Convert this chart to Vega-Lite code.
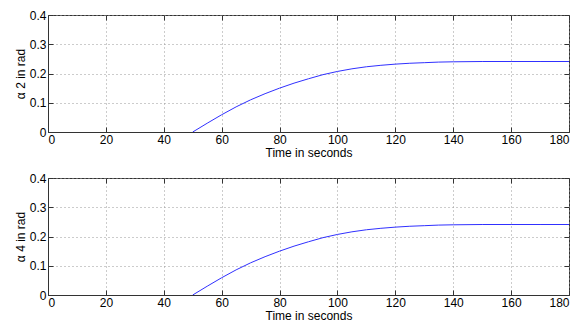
{
  "$schema": "https://vega.github.io/schema/vega-lite/v6.json",
  "background": "white",
  "padding": {"left": 13, "top": 8, "right": 11, "bottom": 2},
  "datasets": {
    "a2": [
      {"t": 50, "v": 0}, {"t": 55, "v": 0.03}, {"t": 60, "v": 0.059}, {"t": 65, "v": 0.086},
      {"t": 70, "v": 0.110}, {"t": 75, "v": 0.131}, {"t": 80, "v": 0.150}, {"t": 85, "v": 0.167},
      {"t": 90, "v": 0.182}, {"t": 95, "v": 0.196}, {"t": 100, "v": 0.207}, {"t": 105, "v": 0.216},
      {"t": 110, "v": 0.223}, {"t": 115, "v": 0.228}, {"t": 120, "v": 0.232}, {"t": 125, "v": 0.235},
      {"t": 130, "v": 0.237}, {"t": 135, "v": 0.239}, {"t": 140, "v": 0.240}, {"t": 150, "v": 0.241},
      {"t": 160, "v": 0.241}, {"t": 170, "v": 0.241}, {"t": 180, "v": 0.241}
    ],
    "a4": [
      {"t": 50, "v": 0}, {"t": 55, "v": 0.03}, {"t": 60, "v": 0.059}, {"t": 65, "v": 0.086},
      {"t": 70, "v": 0.110}, {"t": 75, "v": 0.131}, {"t": 80, "v": 0.150}, {"t": 85, "v": 0.167},
      {"t": 90, "v": 0.182}, {"t": 95, "v": 0.196}, {"t": 100, "v": 0.207}, {"t": 105, "v": 0.216},
      {"t": 110, "v": 0.223}, {"t": 115, "v": 0.228}, {"t": 120, "v": 0.232}, {"t": 125, "v": 0.235},
      {"t": 130, "v": 0.237}, {"t": 135, "v": 0.239}, {"t": 140, "v": 0.240}, {"t": 150, "v": 0.241},
      {"t": 160, "v": 0.241}, {"t": 170, "v": 0.241}, {"t": 180, "v": 0.241}
    ]
  },
  "config": {
    "font": "Liberation Sans",
    "view": {"stroke": "#333", "strokeWidth": 1},
    "axis": {
      "labelFont": "Liberation Sans", "labelFontSize": 12, "labelColor": "#000",
      "titleFont": "Liberation Sans", "titleFontSize": 12, "titleFontWeight": "normal", "titleColor": "#000",
      "domainColor": "#333", "tickColor": "#333", "tickSize": -5, "labelPadding": 7,
      "gridColor": "#999", "gridDash": [1, 3], "gridOpacity": 1, "gridWidth": 1
    }
  },
  "bounds": "flush",
  "spacing": 46,
  "vconcat": [
    {
      "width": 521, "height": 117,
      "data": {"name": "a2"},
      "layer": [
        {
          "mark": {"type": "line", "color": "#3030ff", "strokeWidth": 1, "clip": true},
          "encoding": {
            "x": {"field": "t", "type": "quantitative", "scale": {"domain": [0, 180], "nice": false},
                  "axis": {"title": "Time in seconds", "values": [0, 20, 40, 60, 80, 100, 120, 140, 160, 180], "grid": true, "titlePadding": 2}},
            "y": {"field": "v", "type": "quantitative", "scale": {"domain": [0, 0.4], "nice": false},
                  "axis": {"title": "α 2 in rad", "values": [0, 0.1, 0.2, 0.3, 0.4], "grid": true, "titlePadding": 2,
                           "labelExpr": "datum.value == 0 ? '0' : format(datum.value, '.1f')"}}
          }
        },
        {
          "mark": {"type": "line", "opacity": 0},
          "encoding": {
            "x": {"field": "t", "type": "quantitative",
                  "axis": {"orient": "top", "labels": false, "title": null, "grid": false, "domain": false, "values": [0, 20, 40, 60, 80, 100, 120, 140, 160, 180]}},
            "y": {"field": "v", "type": "quantitative",
                  "axis": {"orient": "right", "labels": false, "title": null, "grid": false, "domain": false, "values": [0, 0.1, 0.2, 0.3, 0.4]}}
          }
        }
      ],
      "resolve": {"axis": {"x": "independent", "y": "independent"}}
    },
    {
      "width": 521, "height": 117,
      "data": {"name": "a4"},
      "layer": [
        {
          "mark": {"type": "line", "color": "#3030ff", "strokeWidth": 1, "clip": true},
          "encoding": {
            "x": {"field": "t", "type": "quantitative", "scale": {"domain": [0, 180], "nice": false},
                  "axis": {"title": "Time in seconds", "values": [0, 20, 40, 60, 80, 100, 120, 140, 160, 180], "grid": true, "titlePadding": 2}},
            "y": {"field": "v", "type": "quantitative", "scale": {"domain": [0, 0.4], "nice": false},
                  "axis": {"title": "α 4 in rad", "values": [0, 0.1, 0.2, 0.3, 0.4], "grid": true, "titlePadding": 2,
                           "labelExpr": "datum.value == 0 ? '0' : format(datum.value, '.1f')"}}
          }
        },
        {
          "mark": {"type": "line", "opacity": 0},
          "encoding": {
            "x": {"field": "t", "type": "quantitative",
                  "axis": {"orient": "top", "labels": false, "title": null, "grid": false, "domain": false, "values": [0, 20, 40, 60, 80, 100, 120, 140, 160, 180]}},
            "y": {"field": "v", "type": "quantitative",
                  "axis": {"orient": "right", "labels": false, "title": null, "grid": false, "domain": false, "values": [0, 0.1, 0.2, 0.3, 0.4]}}
          }
        }
      ],
      "resolve": {"axis": {"x": "independent", "y": "independent"}}
    }
  ]
}
